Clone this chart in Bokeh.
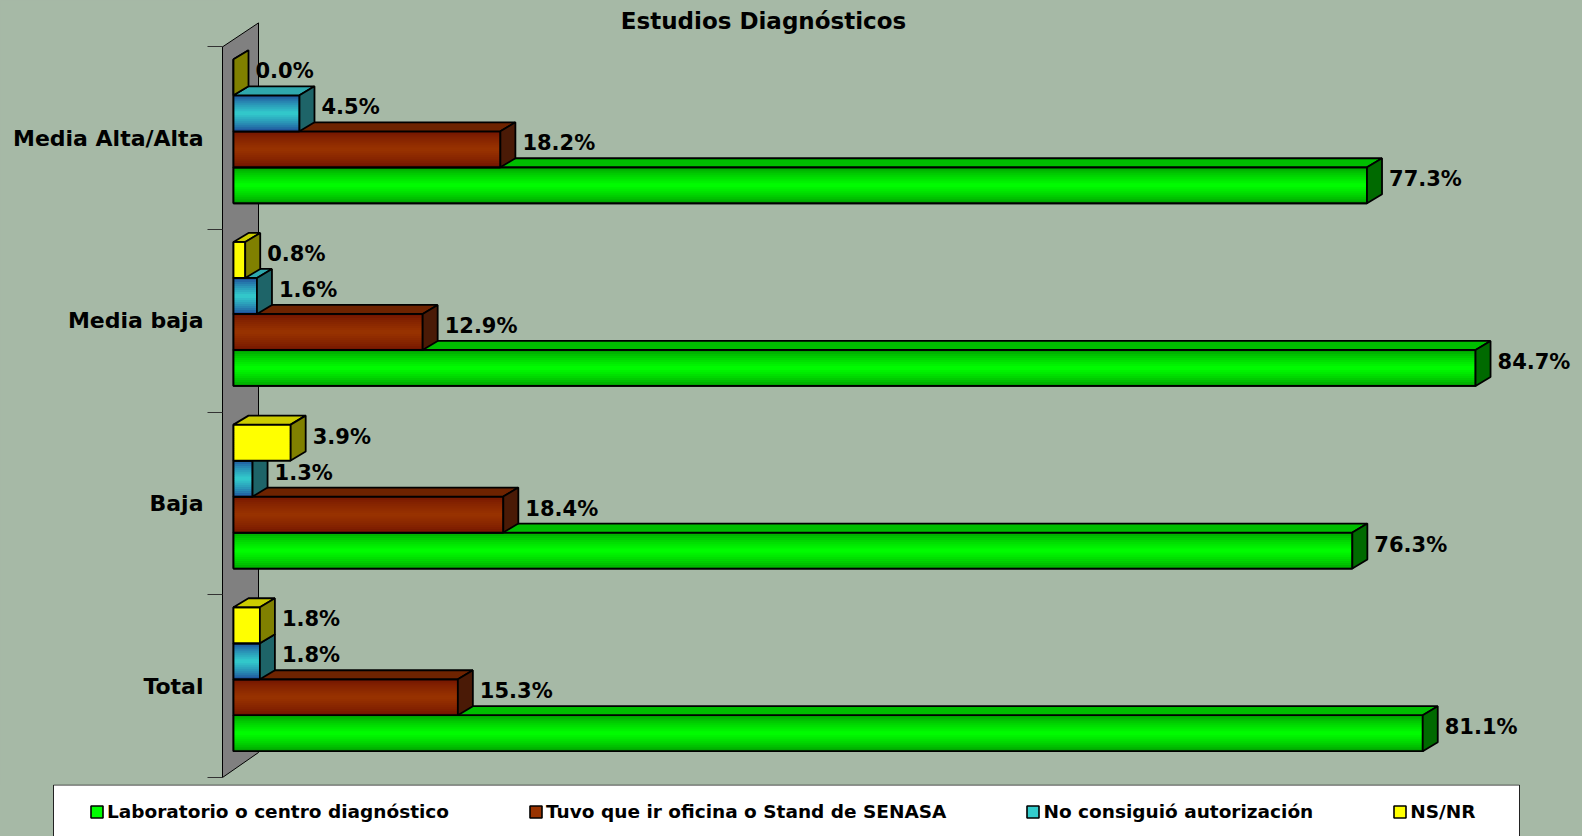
import numpy as np
from bokeh.plotting import figure
from bokeh.layouts import column
from bokeh.models import (ColumnDataSource, Range1d, FixedTicker, Legend, LegendItem, Label)
from bokeh.core.properties import value
from bokeh.embed import file_html
from bokeh.resources import INLINE

# ---------------- data ----------------
categories = ["Media Alta/Alta", "Media baja", "Baja", "Total"]
laboratorio = [77.3, 84.7, 76.3, 81.1]
oficina_senasa = [18.2, 12.9, 18.4, 15.3]
sin_autorizacion = [4.5, 1.6, 1.3, 1.8]
ns_nr = [0.0, 0.8, 3.9, 1.8]
series_names = ["Laboratorio o centro diagnóstico",
                "Tuvo que ir oficina o Stand de SENASA",
                "No consiguió autorización",
                "NS/NR"]
title_text = "Estudios Diagnósticos"

# ---------------- styles / geometry ----------------
BG = "#A6B9A6"
FONT = "DejaVu Sans"
styles = [
    dict(mid=(0, 255, 0), edge=(0, 150, 0), top="#00BE00", side="#006A00"),
    dict(mid=(153, 51, 0), edge=(110, 18, 0), top="#6E2300", side="#4A1A06"),
    dict(mid=(51, 204, 204), edge=(28, 64, 150), top="#2FA8AE", side="#1E6468"),
    dict(mid=(255, 255, 0), edge=(255, 255, 0), top="#CCCC00", side="#808000"),
]
W = 1582
MAIN_H = 784
LEG_H = 52
FRAME_L = 222       # px: axis / wall front edge
ZERO_X = 233        # px: where 0 % lies
TOP_Y = 46.4        # px: top boundary of first category band
PX_X = 14.664       # px per percent
PX_Y = 182.65       # px per category band
BAR_H = 0.197
BASE = -0.356
DX = 15 / PX_X
DY = 9 / PX_Y
N_STRIPS = 18
LW = 1.8

def hexc(c):
    return "#%02x%02x%02x" % tuple(int(round(v)) for v in c)

ncat = len(categories)
ypos = [ncat - 1 - i for i in range(ncat)]   # top category drawn highest
ytop = ncat - 0.5

p = figure(width=W, height=MAIN_H,
           x_range=Range1d((FRAME_L - ZERO_X) / PX_X, (W - ZERO_X) / PX_X),
           y_range=Range1d(ytop - (MAIN_H - TOP_Y) / PX_Y, ytop + TOP_Y / PX_Y),
           x_axis_location=None, y_axis_location="left",
           output_backend="svg", toolbar_location=None,
           min_border_left=FRAME_L, min_border_right=0, min_border_top=0, min_border_bottom=0,
           background_fill_color=BG, border_fill_color=BG, outline_line_color=None)
p.grid.visible = False
p.frame_align = False
p.styles = {"background-color": BG}

# y axis: labels at category centres, ticks at band boundaries
ax = p.yaxis[0]
ax.ticker = FixedTicker(ticks=ypos, minor_ticks=[k - 0.5 for k in range(ncat + 1)])
ax.major_label_overrides = {y: c for y, c in zip(ypos, categories)}
ax.major_tick_in = 0
ax.major_tick_out = 0
ax.minor_tick_in = 0
ax.minor_tick_out = 15
ax.minor_tick_line_color = "#333333"
ax.axis_line_color = "black"
ax.bounds = (-0.5, ytop)
ax.major_label_standoff = 4
ax.major_label_text_font = FONT
ax.major_label_text_font_style = "bold"
ax.major_label_text_font_size = "22px"
ax.major_label_text_color = "black"

# 3D wall
wx0, wx1 = (FRAME_L - ZERO_X) / PX_X, 25 / PX_X
p.patch([wx0, wx0, wx1, wx1],
        [-0.5, ytop, ytop + 24 / PX_Y, -0.5 + 25 / PX_Y],
        fill_color="#808080", line_color="black", line_width=1)

series = [laboratorio, oficina_senasa, sin_autorizacion, ns_nr]
for s, vals in enumerate(series):
    st = styles[s]
    y0 = np.array([y + BASE + s * BAR_H for y in ypos])
    y1 = y0 + BAR_H
    v = np.array(vals, dtype=float)
    src = ColumnDataSource(dict(left=np.zeros_like(v), right=v, bottom=y0, top=y1))
    p.quad(left="left", right="right", bottom="bottom", top="top", source=src,
           fill_color=hexc(st["mid"]), line_color="black", line_width=LW)

    # front-face gradient strips
    L, R, B, T, C = [], [], [], [], []
    mid = np.array(st["mid"], float)
    edge = np.array(st["edge"], float)
    for k in range(len(v)):
        for j in range(N_STRIPS):
            t = (j + 0.5) / N_STRIPS
            w = (1 - abs(2 * t - 1)) ** 0.7
            L.append(0.0)
            R.append(v[k])
            B.append(y0[k] + j * BAR_H / N_STRIPS)
            T.append(y0[k] + (j + 1.15) * BAR_H / N_STRIPS if j < N_STRIPS - 1 else y1[k])
            C.append(hexc(edge + (mid - edge) * w))
    p.quad(left=L, right=R, bottom=B, top=T, fill_color=C, line_color=None)
    p.quad(left="left", right="right", bottom="bottom", top="top", source=src,
           fill_color=None, line_color="black", line_width=LW)

    # top faces and side faces
    top_xs = [[0, vv, vv + DX, DX] for vv in v]
    top_ys = [[b, b, b + DY, b + DY] for b in y1]
    p.patches(top_xs, top_ys, fill_color=st["top"], line_color="black", line_width=LW)
    side_xs = [[vv, vv, vv + DX, vv + DX] for vv in v]
    side_ys = [[a, b, b + DY, a + DY] for a, b in zip(y0, y1)]
    p.patches(side_xs, side_ys, fill_color=st["side"], line_color="black", line_width=LW)

    # data labels
    lab = ColumnDataSource(dict(x=v + DX + 7 / PX_X, y=(y0 + y1) / 2 + 6 / PX_Y,
                                t=[f"{vv:.1f}%" for vv in v]))
    p.text(x="x", y="y", text="t", source=lab, text_font=value(FONT),
           text_font_style="bold", text_font_size="21px", text_color="black",
           text_align="left", text_baseline="middle")

# title
p.add_layout(Label(x=763 - FRAME_L, y=MAIN_H - 20, x_units="screen", y_units="screen",
                   text=title_text, text_font=FONT, text_font_style="bold",
                   text_font_size="23px", text_align="center", text_baseline="middle",
                   text_color="black"))

# ---------------- legend strip (pixel coordinates, y downwards) ----------------
leg = figure(width=W, height=LEG_H, x_range=Range1d(0, W), y_range=Range1d(LEG_H, 0),
             x_axis_location=None, y_axis_location=None,
             output_backend="svg", toolbar_location=None,
             min_border_left=0, min_border_right=0, min_border_top=0, min_border_bottom=0,
             background_fill_color=BG, border_fill_color=BG, outline_line_color=None)
leg.grid.visible = False
leg.frame_align = False
leg.styles = {"background-color": BG}
leg.quad(left=[53], right=[1519], top=[0.5], bottom=[LEG_H + 10],
         fill_color="white", line_color="#222222", line_width=1)
items = []
for s in range(len(series_names)):
    r = leg.quad(left=[-20], right=[-10], bottom=[-20], top=[-10],
                 fill_color=hexc(styles[s]["mid"]), line_color="black", line_width=1.6)
    items.append(LegendItem(label=series_names[s], renderers=[r]))
legend = Legend(items=items, orientation="horizontal", location=(89, 14),
                padding=0, margin=0, spacing=79, label_standoff=3,
                glyph_width=15, glyph_height=15,
                border_line_color=None, background_fill_alpha=0,
                label_text_font=FONT, label_text_font_style="bold",
                label_text_font_size="18.5px", label_text_color="black")
leg.add_layout(legend)

layout = column(p, leg, spacing=0)
layout.styles = {"background-color": BG}
html = file_html(layout, INLINE)
html = html.replace("<body>", '<body style="background-color:%s;">' % BG, 1)
open("out.html", "w").write(html)
